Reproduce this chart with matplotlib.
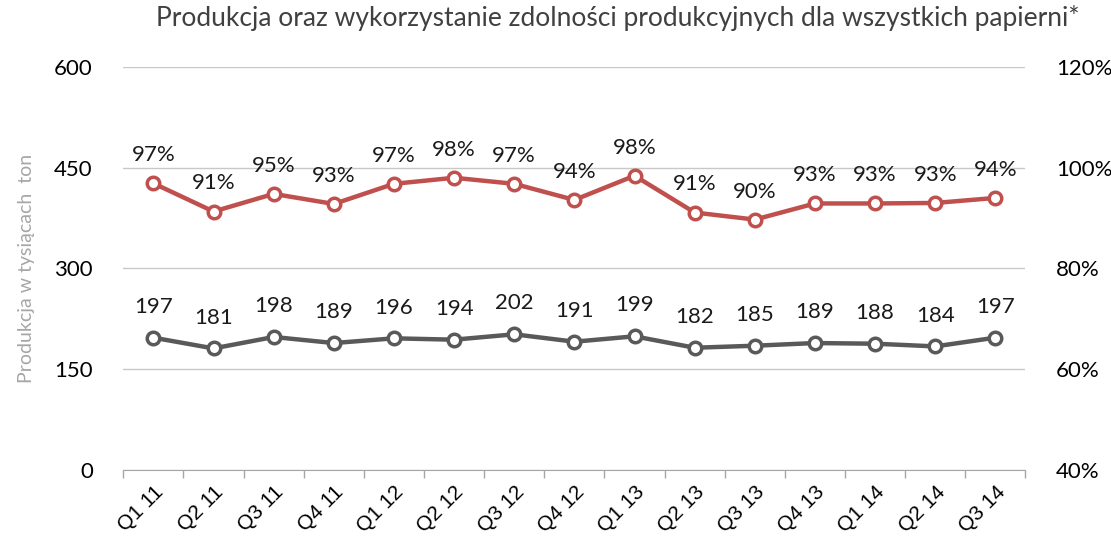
import numpy as np
import matplotlib.pyplot as plt

plt.rcParams['font.family'] = ['Lato', 'DejaVu Sans']

kwartaly = ['Q1 11', 'Q2 11', 'Q3 11', 'Q4 11', 'Q1 12', 'Q2 12', 'Q3 12', 'Q4 12',
            'Q1 13', 'Q2 13', 'Q3 13', 'Q4 13', 'Q1 14', 'Q2 14', 'Q3 14']
produkcja = [197, 181, 198, 189, 196, 194, 202, 191, 199, 182, 185, 189, 188, 184, 197]
wykorzystanie = [96.9, 91.3, 94.8, 92.8, 96.8, 98.0, 96.8, 93.6, 98.4, 91.1, 89.7, 92.9, 92.9, 93.0, 94.0]

x = np.arange(len(kwartaly))

fig = plt.figure(figsize=(11.11, 5.44), dpi=100)
ax = fig.add_axes([0.111, 0.136, 0.812, 0.741])
ax2 = ax.twinx()

szary = '#595959'
czerwony = '#c0504d'

ax.plot(x, produkcja, color=szary, lw=3.2, marker='o', ms=9, mfc='white', mec=szary, mew=2.5, zorder=3)
ax2.plot(x, wykorzystanie, color=czerwony, lw=3.2, marker='o', ms=9, mfc='white', mec=czerwony, mew=2.5, zorder=3)

for xi, v in zip(x, produkcja):
    ax.annotate(str(v), (xi, v), xytext=(0, 15), textcoords='offset points',
                ha='center', va='bottom', fontsize=16, color='#1a1a1a')
for xi, v in zip(x, wykorzystanie):
    ax2.annotate('%d%%' % round(v), (xi, v), xytext=(0, 13), textcoords='offset points',
                 ha='center', va='bottom', fontsize=16, color='#1a1a1a')

ax.set_ylim(0, 600)
ax.set_yticks([0, 150, 300, 450, 600])
ax2.set_ylim(40, 120)
ax2.set_yticks([40, 60, 80, 100, 120])
ax2.set_yticklabels(['%d%%' % t for t in [40, 60, 80, 100, 120]])

ax.set_xlim(-0.5, len(kwartaly) - 0.5)
ax.set_xticks(x)
ax.set_xticklabels(kwartaly, rotation=45, ha='right', va='top', rotation_mode='anchor',
                   fontsize=15, family=['Liberation Sans', 'DejaVu Sans'])
for lab in ax.get_xticklabels():
    lab.set_transform(lab.get_transform() + plt.matplotlib.transforms.ScaledTranslation(0.08, 0, fig.dpi_scale_trans))
ax.set_xticks(np.arange(-0.5, len(kwartaly)), minor=True)
ax.tick_params(axis='x', which='major', length=0, pad=9)
ax.tick_params(axis='x', which='minor', length=6, color='#a6a6a6', width=1)
ax.tick_params(axis='y', length=0, labelsize=16, pad=22)
ax2.tick_params(axis='y', length=0, labelsize=16, pad=22)

ax.grid(axis='y', color='#c8c8c8', lw=1)
ax.set_axisbelow(True)
for a in (ax, ax2):
    for s in ['top', 'right', 'left']:
        a.spines[s].set_visible(False)
    a.spines['bottom'].set_color('#a6a6a6')
ax2.spines['bottom'].set_visible(False)

ax.set_ylabel('Produkcja w tysiącach  ton', color='#a6a6a6', fontsize=14, labelpad=14)
fig.suptitle('Produkcja oraz wykorzystanie zdolności produkcyjnych dla wszystkich papierni*',
             x=0.556, y=0.99, fontsize=19, color='#404040')

fig.savefig('out.png', dpi=100)
